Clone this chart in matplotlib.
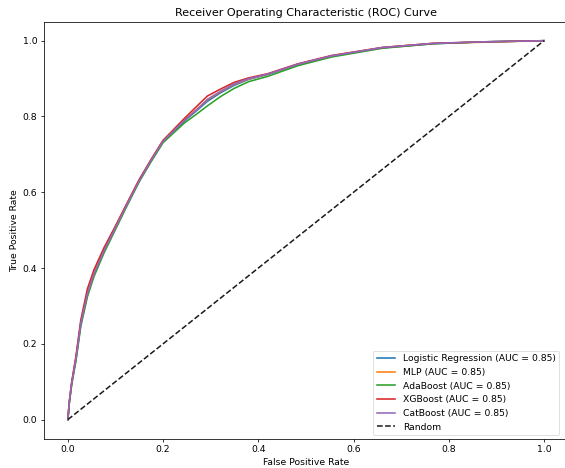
import matplotlib
matplotlib.use("Agg")
import matplotlib.pyplot as plt

models = ["Logistic Regression", "MLP", "AdaBoost", "XGBoost", "CatBoost"]
aucs = [0.85, 0.85, 0.85, 0.85, 0.85]
colors = ["#1f77b4", "#ff7f0e", "#2ca02c", "#d62728", "#9467bd"]

fpr_lr = [0, 0.003, 0.008, 0.017, 0.027, 0.041, 0.055, 0.076, 0.097, 0.125, 0.15, 0.175, 0.2, 0.244, 0.27, 0.293, 0.32, 0.349, 0.38, 0.42, 0.483, 0.554, 0.66, 0.767, 0.873, 1.0]
tpr_lr = [0, 0.045, 0.095, 0.160, 0.250, 0.330, 0.384, 0.445, 0.498, 0.569, 0.630, 0.684, 0.734, 0.787, 0.815, 0.840, 0.862, 0.882, 0.898, 0.911, 0.937, 0.959, 0.981, 0.992, 0.997, 1.0]

fpr_mlp = [0, 0.003, 0.008, 0.017, 0.027, 0.041, 0.055, 0.076, 0.097, 0.125, 0.15, 0.175, 0.2, 0.244, 0.27, 0.293, 0.32, 0.349, 0.38, 0.42, 0.483, 0.554, 0.66, 0.767, 0.873, 1.0]
tpr_mlp = [0, 0.046, 0.097, 0.163, 0.254, 0.334, 0.387, 0.448, 0.501, 0.572, 0.633, 0.686, 0.737, 0.790, 0.818, 0.844, 0.865, 0.885, 0.899, 0.912, 0.938, 0.960, 0.982, 0.993, 0.996, 1.0]

fpr_ada = [0, 0.003, 0.008, 0.017, 0.027, 0.041, 0.055, 0.076, 0.097, 0.125, 0.15, 0.175, 0.2, 0.244, 0.27, 0.293, 0.32, 0.349, 0.38, 0.42, 0.483, 0.554, 0.66, 0.767, 0.873, 1.0]
tpr_ada = [0, 0.043, 0.092, 0.155, 0.245, 0.324, 0.378, 0.440, 0.494, 0.566, 0.628, 0.681, 0.731, 0.782, 0.806, 0.828, 0.852, 0.874, 0.892, 0.906, 0.934, 0.957, 0.980, 0.992, 0.997, 1.0]

fpr_xgb = [0, 0.003, 0.008, 0.017, 0.027, 0.041, 0.055, 0.076, 0.097, 0.125, 0.15, 0.175, 0.2, 0.244, 0.27, 0.293, 0.32, 0.349, 0.38, 0.42, 0.483, 0.554, 0.66, 0.767, 0.873, 1.0]
tpr_xgb = [0, 0.047, 0.099, 0.168, 0.262, 0.345, 0.396, 0.454, 0.504, 0.573, 0.634, 0.687, 0.737, 0.794, 0.826, 0.854, 0.872, 0.890, 0.902, 0.913, 0.939, 0.961, 0.982, 0.993, 0.997, 1.0]

fpr_cat = [0, 0.003, 0.008, 0.017, 0.027, 0.041, 0.055, 0.076, 0.097, 0.125, 0.15, 0.175, 0.2, 0.244, 0.27, 0.293, 0.32, 0.349, 0.38, 0.42, 0.483, 0.554, 0.66, 0.767, 0.873, 1.0]
tpr_cat = [0, 0.046, 0.096, 0.161, 0.253, 0.332, 0.385, 0.446, 0.499, 0.570, 0.631, 0.685, 0.735, 0.789, 0.817, 0.845, 0.866, 0.886, 0.900, 0.912, 0.938, 0.960, 0.982, 0.993, 0.997, 1.0]

fprs = [fpr_lr, fpr_mlp, fpr_ada, fpr_xgb, fpr_cat]
tprs = [tpr_lr, tpr_mlp, tpr_ada, tpr_xgb, tpr_cat]

fig = plt.figure(figsize=(5.65, 4.68), dpi=100)
ax = fig.add_axes([0.078, 0.063, 0.927, 0.8905])

for name, auc, c, f, t in zip(models, aucs, colors, fprs, tprs):
    ax.plot(f, t, color=c, lw=1.15, label=f"{name} (AUC = {auc:.2f})")
ax.plot([0, 1], [0, 1], color="#1a1a1a", lw=1.1, ls="--", dashes=(3.7, 1.6), label="Random")

ax.set_xlim(-0.05, 1.05)
ax.set_ylim(-0.05, 1.05)
ax.set_xticks([0, 0.2, 0.4, 0.6, 0.8, 1.0])
ax.set_yticks([0, 0.2, 0.4, 0.6, 0.8, 1.0])
ax.tick_params(labelsize=6.7, length=2.4, width=0.55, pad=2.4)
for s in ax.spines.values():
    s.set_linewidth(0.55)
ax.set_xlabel("False Positive Rate", fontsize=6.7, labelpad=2.7)
ax.set_ylabel("True Positive Rate", fontsize=6.7, labelpad=2.7)
ax.set_title("Receiver Operating Characteristic (ROC) Curve", fontsize=8, pad=4)
leg = ax.legend(loc="lower right", fontsize=6.7, handlelength=2.0,
                bbox_to_anchor=(0.99, 0.0), borderaxespad=0.35)
leg.get_frame().set_linewidth(0.55)

fig.savefig("out.png", dpi=100)
